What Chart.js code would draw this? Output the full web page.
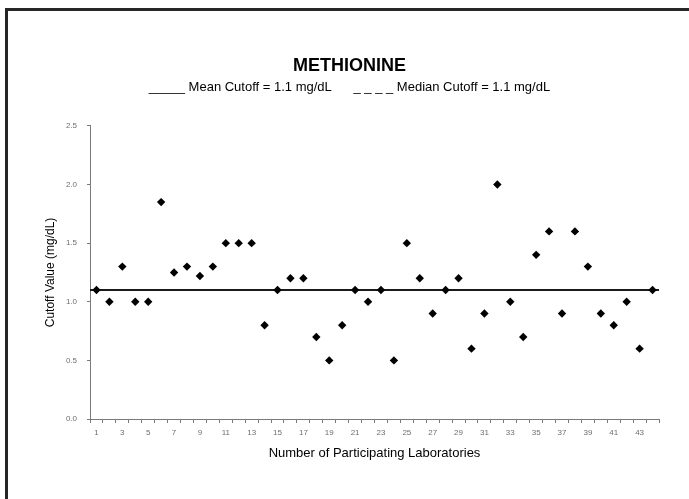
<!DOCTYPE html>
<html>
<head>
<meta charset="utf-8">
<script src="https://cdn.jsdelivr.net/npm/chart.js@4/dist/chart.umd.min.js"></script>
<style>
  html, body { margin: 0; padding: 0; background: #fff; }
  #wrap { position: relative; width: 689px; height: 499px; overflow: hidden; }
  #frame { position: absolute; left: 5px; top: 8px; width: 700px; height: 500px;
           border-left: 3px solid #262626; border-top: 3px solid #262626; pointer-events: none; }
  canvas { position: absolute; left: 0; top: 0; }
</style>
</head>
<body>
<div id="wrap">
  <canvas id="c" width="689" height="499"></canvas>
  <div id="frame"></div>
</div>
<script>
const chartTitle = 'METHIONINE';
const legendText = '_____ Mean Cutoff = 1.1 mg/dL      _ _ _ _ Median Cutoff = 1.1 mg/dL';
const xTitle = 'Number of Participating Laboratories';
const yTitle = 'Cutoff Value (mg/dL)';
const labs = ['1','2','3','4','5','6','7','8','9','10','11','12','13','14','15','16','17','18','19','20','21','22','23','24','25','26','27','28','29','30','31','32','33','34','35','36','37','38','39','40','41','42','43','44'];
const cutoffs = [1.1,1.0,1.3,1.0,1.0,1.85,1.25,1.3,1.22,1.3,1.5,1.5,1.5,0.8,1.1,1.2,1.2,0.7,0.5,0.8,1.1,1.0,1.1,0.5,1.5,1.2,0.9,1.1,1.2,0.6,0.9,2.0,1.0,0.7,1.4,1.6,0.9,1.6,1.3,0.9,0.8,1.0,0.6,1.1];
const meanCutoff = 1.1;
const medianCutoff = 1.1;
const yTicks = [0, 0.5, 1.0, 1.5, 2.0, 2.5];

const FONT = "'Liberation Sans', Arial, sans-serif";
const n = labs.length;

new Chart(document.getElementById('c'), {
  type: 'scatter',
  data: {
    labels: labs,
    datasets: [
      {
        label: 'Median Cutoff',
        type: 'line',
        xAxisID: 'xl',
        data: [{x: -0.5, y: medianCutoff}, {x: n - 0.5, y: medianCutoff}],
        borderColor: '#1a1a1a',
        borderWidth: 2,
        borderDash: [6, 4],
        pointRadius: 0,
        order: 3
      },
      {
        label: 'Mean Cutoff',
        type: 'line',
        xAxisID: 'xl',
        data: [{x: -0.5, y: meanCutoff}, {x: n - 0.5, y: meanCutoff}],
        borderColor: '#1a1a1a',
        borderWidth: 2,
        pointRadius: 0,
        order: 2
      },
      {
        label: 'Cutoff',
        type: 'line',
        xAxisID: 'x',
        data: cutoffs,
        showLine: false,
        pointStyle: 'rectRot',
        pointRadius: 4.2,
        pointBackgroundColor: '#000',
        pointBorderColor: '#000',
        pointBorderWidth: 0,
        order: 1
      }
    ]
  },
  options: {
    responsive: false,
    animation: false,
    layout: { padding: { left: 40, right: 30, top: 0, bottom: 0 } },
    plugins: {
      legend: { display: false },
      tooltip: { enabled: false },
      title: {
        display: true,
        text: chartTitle,
        color: '#000',
        font: { family: FONT, size: 18, weight: 'bold' },
        padding: { top: 55.7, bottom: 0 }
      },
      subtitle: {
        display: true,
        text: legendText,
        color: '#000',
        font: { family: FONT, size: 13, weight: 'normal' },
        padding: { top: 2, bottom: 31 }
      }
    },
    scales: {
      x: {
        type: 'category',
        labels: labs,
        offset: true,
        position: 'bottom',
        grid: { display: true, offset: true, drawOnChartArea: false, drawTicks: true, tickLength: 4, color: '#7a7a7a' },
        border: { display: true, color: '#7a7a7a', width: 1 },
        ticks: {
          autoSkip: false, maxRotation: 0, minRotation: 0, padding: 5,
          color: '#6e6e6e', font: { family: FONT, size: 8 },
          callback: function(v, i) { return (i % 2 === 0) ? labs[i] : ''; }
        },
        title: {
          display: true, text: xTitle, color: '#000',
          font: { family: FONT, size: 13 },
          padding: { top: 0, bottom: 38 }
        },
        afterFit: function(s) { s.height = 80; }
      },
      xl: {
        type: 'linear',
        display: false,
        min: -0.5,
        max: n - 0.5
      },
      y: {
        type: 'linear',
        min: 0,
        max: 2.5,
        afterBuildTicks: function(s) { s.ticks = yTicks.map(v => ({ value: v })); },
        grid: { display: true, drawOnChartArea: false, drawTicks: true, tickLength: 3, color: '#7a7a7a' },
        border: { display: true, color: '#7a7a7a', width: 1 },
        ticks: {
          padding: 10, color: '#6e6e6e', font: { family: FONT, size: 8 },
          callback: function(v) { return Number(v).toFixed(1); }
        },
        title: {
          display: true, text: yTitle, color: '#000',
          font: { family: FONT, size: 12 },
          padding: { top: 3.5, bottom: 0 }
        },
        afterFit: function(s) { s.width = 50; }
      }
    }
  }
});
</script>
</body>
</html>
